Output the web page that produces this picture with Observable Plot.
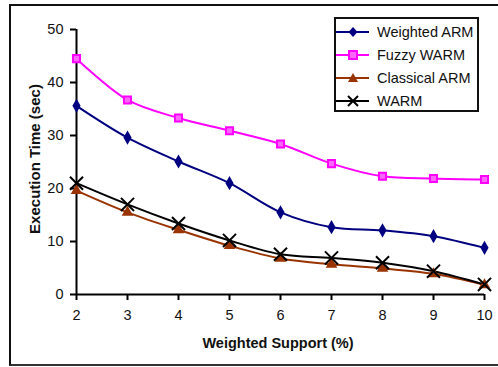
<!DOCTYPE html>
<html>
<head>
<meta charset="utf-8">
<script src="https://cdn.jsdelivr.net/npm/d3@7"></script>
<script src="https://cdn.jsdelivr.net/npm/@observablehq/plot@0.6"></script>
<style>
  html, body { margin: 0; padding: 0; background: #fff; }
  #wrap { position: relative; width: 498px; height: 367px; overflow: hidden; font-family: "Liberation Sans", Arial, sans-serif; }
  #frame { position: absolute; left: 9px; top: 4px; width: 500px; height: 362px; box-sizing: border-box;
           border-left: 2px solid #111; border-top: 2px solid #111; border-bottom: 2px solid #333; }
  #chart { position: absolute; left: 0; top: 0; }
  #legend { position: absolute; left: 334px; top: 17px; width: 145px; height: 95px; box-sizing: border-box;
            border: 2px solid #111; background: #fff; }
</style>
</head>
<body>
<div id="wrap">
  <div id="frame"></div>
  <div id="chart"></div>
  <div id="legend"></div>
</div>
<script>
const support = [2, 3, 4, 5, 6, 7, 8, 9, 10];
const seriesNames = ["Weighted ARM", "Fuzzy WARM", "Classical ARM", "WARM"];
const weightedARM = [35.6, 29.6, 25.1, 21.0, 15.5, 12.7, 12.1, 11.0, 8.8];
const fuzzyWARM = [44.5, 36.7, 33.3, 30.9, 28.4, 24.7, 22.3, 21.9, 21.7];
const classicalARM = [19.6, 15.5, 12.2, 9.2, 6.8, 5.7, 4.9, 3.9, 1.8];
const warm = [21.0, 17.0, 13.4, 10.2, 7.6, 6.9, 6.0, 4.4, 1.9];
const xTicks = [2, 3, 4, 5, 6, 7, 8, 9, 10];
const yTicks = [0, 10, 20, 30, 40, 50];

const colors = ["#000080", "#FF00FF", "#993300", "#000000"];
const symbols = ["diamond", "square", "triangle", "times"];
const allValues = [weightedARM, fuzzyWARM, classicalARM, warm];

const rows = [];
seriesNames.forEach((s, i) => support.forEach((x, j) => rows.push({series: s, x, y: allValues[i][j]})));

const marks = [];
seriesNames.forEach((s, i) => {
  const d = rows.filter(r => r.series === s);
  marks.push(Plot.line(d, {x: "x", y: "y", stroke: colors[i], strokeWidth: 2, curve: "catmull-rom"}));
});
seriesNames.forEach((s, i) => {
  const d = rows.filter(r => r.series === s);
  const sym = symbols[i];
  if (sym === "times") {
    marks.push(Plot.dot(d, {x: "x", y: "y", symbol: "times", r: 6, stroke: colors[i], strokeWidth: 2}));
  } else if (sym === "square") {
    marks.push(Plot.dot(d, {x: "x", y: "y", symbol: "square", r: 4, fill: "#FF66FF", stroke: colors[i], strokeWidth: 2}));
  } else {
    marks.push(Plot.dot(d, {x: "x", y: "y", symbol: sym, r: 4.3, fill: colors[i], stroke: "none"}));
  }
});

const chart = Plot.plot({
  width: 498,
  height: 367,
  marginLeft: 76,
  marginRight: 14,
  marginTop: 29,
  marginBottom: 73,
  style: {fontFamily: "'Liberation Sans', Arial, sans-serif", fontSize: "14.5px", color: "#111", background: "transparent", overflow: "visible"},
  x: {domain: [2, 10], label: null},
  y: {domain: [0, 50], label: null},
  marks: [
    Plot.ruleX([2], {stroke: "#000", strokeWidth: 2}),
    Plot.ruleY([0], {stroke: "#000", strokeWidth: 2}),
    Plot.axisX({ticks: xTicks, tickSize: 6, tickPadding: 9, stroke: "#000", strokeWidth: 2, label: null, fontSize: 14.5, tickFormat: d => String(d)}),
    Plot.axisY({ticks: yTicks, tickSize: 6, tickPadding: 7, stroke: "#000", strokeWidth: 2, label: null, fontSize: 14.5, tickFormat: d => String(d)}),
    ...marks
  ]
});
document.getElementById("chart").appendChild(chart);

// axis titles
const svg = d3.select(chart);
svg.append("text").attr("x", 278).attr("y", 348).attr("text-anchor", "middle")
  .attr("font-weight", "bold").attr("font-size", 14.5).attr("fill", "#111").text("Weighted Support (%)");
svg.append("text").attr("transform", "translate(40,159) rotate(-90)").attr("text-anchor", "middle")
  .attr("font-weight", "bold").attr("font-size", 15).attr("fill", "#111").text("Execution Time (sec)");

// legend
const lg = d3.select("#legend").append("svg").attr("width", 141).attr("height", 91);
seriesNames.forEach((s, i) => {
  const cy = 13 + i * 23;
  lg.append("line").attr("x1", 0).attr("x2", 33).attr("y1", cy).attr("y2", cy).attr("stroke", colors[i]).attr("stroke-width", 2);
  const cx = 17;
  if (symbols[i] === "diamond") {
    lg.append("path").attr("d", `M${cx},${cy-5}L${cx+4.5},${cy}L${cx},${cy+5}L${cx-4.5},${cy}Z`).attr("fill", colors[i]);
  } else if (symbols[i] === "square") {
    lg.append("rect").attr("x", cx-4).attr("y", cy-4).attr("width", 8).attr("height", 8).attr("fill", "#FF66FF").attr("stroke", colors[i]).attr("stroke-width", 2);
  } else if (symbols[i] === "triangle") {
    lg.append("path").attr("d", `M${cx},${cy-5}L${cx+5},${cy+4}L${cx-5},${cy+4}Z`).attr("fill", colors[i]);
  } else {
    lg.append("path").attr("d", `M${cx-5},${cy-5}L${cx+5},${cy+5}M${cx-5},${cy+5}L${cx+5},${cy-5}`).attr("stroke", colors[i]).attr("stroke-width", 2);
  }
  lg.append("text").attr("x", 41).attr("y", cy + 5).attr("font-size", 14.5).attr("fill", "#111")
    .attr("font-family", "'Liberation Sans', Arial, sans-serif").text(s);
});
</script>
</body>
</html>
